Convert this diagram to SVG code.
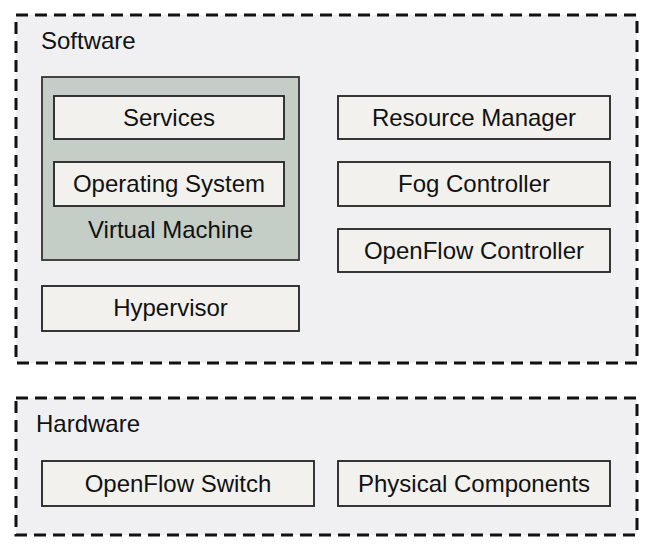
<svg xmlns="http://www.w3.org/2000/svg" width="655" height="550" viewBox="0 0 655 550">
<style>
.grp{fill:#f0f0f2;stroke:#111;stroke-width:3;stroke-dasharray:12 7}
.box{fill:#f2f1ee;stroke:#222;stroke-width:1.8}
.vm{fill:#c5cec6;stroke:#333;stroke-width:1.8}
text{font-family:"Liberation Sans",Arial,Helvetica,sans-serif;font-size:24px;fill:#111}
.c{text-anchor:middle}
</style>
<rect width="655" height="550" fill="#ffffff"/>
<g id="software">
<rect class="grp" x="16" y="15" width="621" height="348"/>
<text x="41" y="49">Software</text>
</g>
<g id="hardware">
<rect class="grp" x="16" y="398" width="621" height="137"/>
<text x="36" y="432">Hardware</text>
</g>
<g id="virtual-machine">
<rect class="vm" x="42" y="77" width="257" height="183"/>
<text class="c" x="170.5" y="238">Virtual Machine</text>
</g>
<g id="services">
<rect class="box" x="54" y="96" width="230" height="43"/>
<text class="c" x="169" y="126">Services</text>
</g>
<g id="operating-system">
<rect class="box" x="54" y="162" width="230" height="44"/>
<text class="c" x="169" y="192">Operating System</text>
</g>
<g id="hypervisor">
<rect class="box" x="42" y="286" width="257" height="45"/>
<text class="c" x="170.5" y="316">Hypervisor</text>
</g>
<g id="resource-manager">
<rect class="box" x="338" y="96" width="272" height="43"/>
<text class="c" x="474" y="126">Resource Manager</text>
</g>
<g id="fog-controller">
<rect class="box" x="338" y="162" width="272" height="44"/>
<text class="c" x="474" y="192">Fog Controller</text>
</g>
<g id="openflow-controller">
<rect class="box" x="338" y="229" width="272" height="43"/>
<text class="c" x="474" y="259">OpenFlow Controller</text>
</g>
<g id="openflow-switch">
<rect class="box" x="42" y="461" width="272" height="45"/>
<text class="c" x="178" y="492">OpenFlow Switch</text>
</g>
<g id="physical-components">
<rect class="box" x="338" y="461" width="272" height="45"/>
<text class="c" x="474" y="492">Physical Components</text>
</g>
<g id="connectors"></g>
</svg>
